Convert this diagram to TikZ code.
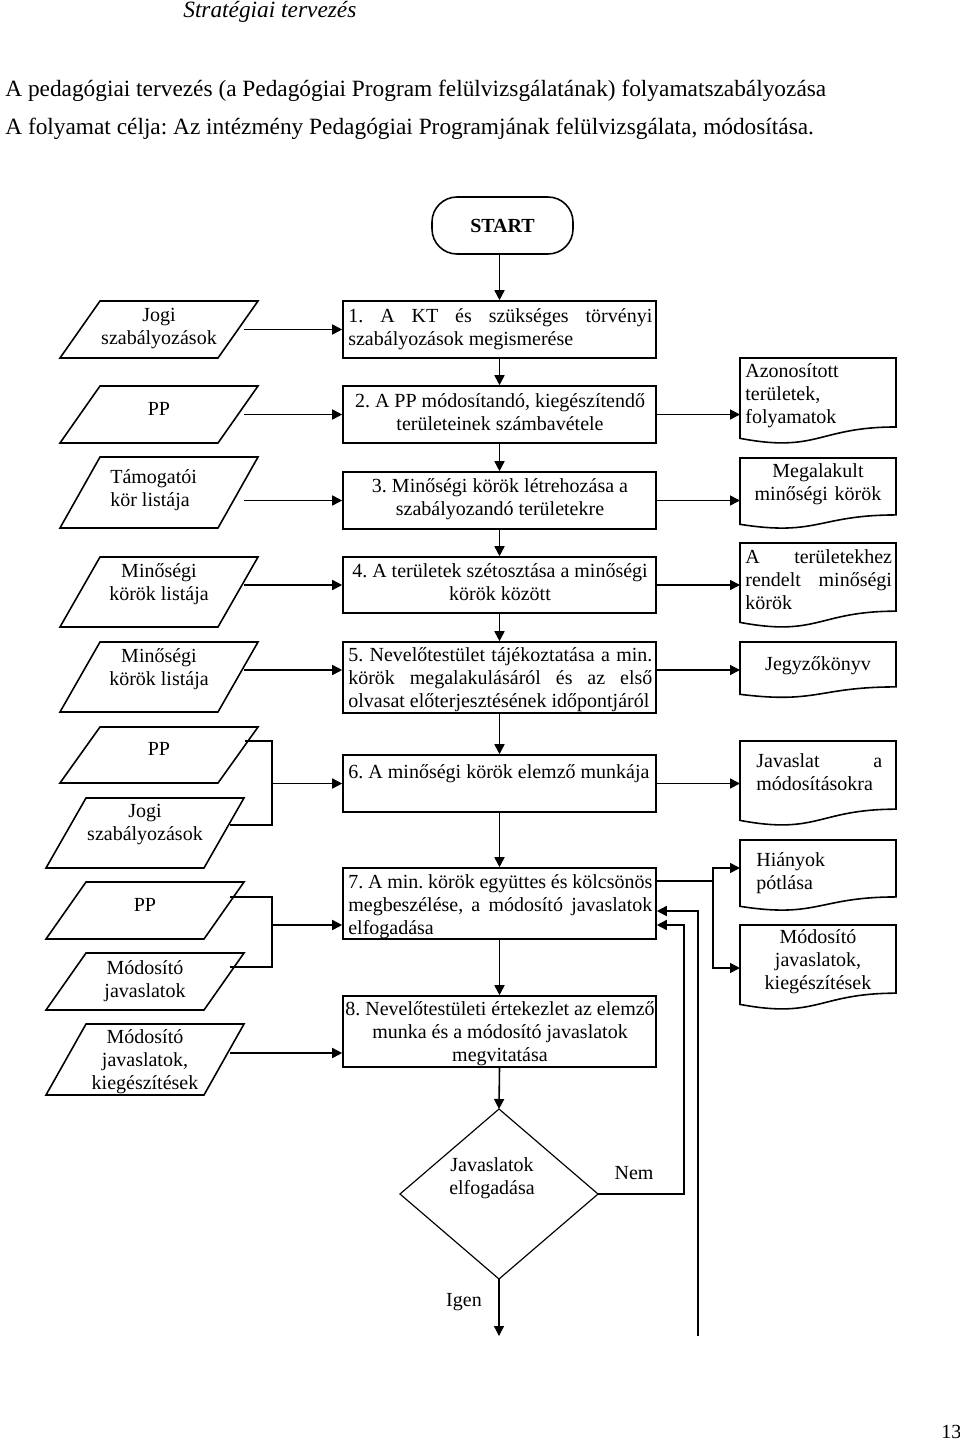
\documentclass[tikz,border=0pt]{standalone}
\usepackage{fontspec}
\setmainfont{Liberation Serif}
\usetikzlibrary{arrows.meta,calc,fit}
\frenchspacing

\newcommand\jl[2]{\makebox[#1][s]{#2}}
\newcommand\docnode[5]{%
  \node[ghost, fit={(#2,#3) (#4,#3+0.802*#5)}] (#1) {};
  \draw[line] (#1.north west) -- (#1.north east) -- (#1.south east)
    .. controls (#1.south) and ($(#1.south)+(0,0.305*#5)$) ..
    ($(#1.north west)+(0,0.934*#5)$) -- cycle;
}
\newcommand\paranode[5]{%
  \node[ghost, fit={(#2,#4) (#3,#5)}] (#1) {};
  \draw[line] ($(#1.north west)+(40,0)$) -- (#1.north east) --
    ($(#1.south east)+(-40,0)$) -- (#1.south west) -- cycle;
}

\begin{document}
\begin{tikzpicture}[x=0.6pt,y=-0.6pt,
  line/.style={line width=0.95pt},
  thinline/.style={line width=0.7pt},
  arr/.style={line width=0.95pt,-{Triangle[length=6pt,width=6pt]}},
  thinarr/.style={line width=0.7pt,-{Triangle[length=6pt,width=6pt]}},
  box/.style={draw,line width=0.95pt,inner sep=0pt},
  ghost/.style={inner sep=0pt,outer sep=0pt},
  txt/.style={inner sep=0pt,yshift=-2pt,font=\fontsize{12}{13.8}\selectfont\frenchspacing,execute at begin node=\strut},
  head/.style={inner sep=0pt,font=\fontsize{14}{16}\selectfont},
]
\useasboundingbox (0,0) rectangle (960,1440);

% header
\node[head,anchor=base west,font=\fontsize{14}{16}\selectfont\itshape] (h0) at (183,18) {Stratégiai tervezés};
\node[head,anchor=base west] (h1) at (5,97) {A pedagógiai tervezés (a Pedagógiai Program felülvizsgálatának) folyamatszabályozása};
\node[head,anchor=base west] (h2) at (5,135) {A folyamat célja: Az intézmény Pedagógiai Programjának felülvizsgálata, módosítása.};

% start
\node[box,rounded corners=15pt,fit={(432,197) (573,254)}] (start) {};
\node[inner sep=0pt,font=\fontsize{12}{13.8}\selectfont\bfseries] (startt) at (start.center) {START};

% process boxes
\node[box,fit={(343,301) (656,358)}] (b1) {};
\node[box,fit={(343,386) (656,443)}] (b2) {};
\node[box,fit={(343,472) (656,529)}] (b3) {};
\node[box,fit={(343,557) (656,613)}] (b4) {};
\node[box,fit={(343,642) (656,713)}] (b5) {};
\node[box,fit={(343,755) (656,812)}] (b6) {};
\node[box,fit={(343,868) (656,939)}] (b7) {};
\node[box,fit={(343,996) (656,1067)}] (b8) {};

\node[txt,anchor=north west,align=left] (t1) at (348,305) {\jl{182.4pt}{1. A KT és szükséges törvényi}\\szabályozások megismerése};
\node[txt,anchor=north,align=center] (t2) at (500,390) {2. A PP módosítandó, kiegészítendő\\területeinek számbavétele};
\node[txt,anchor=north,align=center] (t3) at (500,475) {3. Minőségi körök létrehozása a\\szabályozandó területekre};
\node[txt,anchor=north,align=center] (t4) at (500,560) {4. A területek szétosztása a minőségi\\körök között};
\node[txt,anchor=north west,align=left] (t5) at (348,644) {\jl{182.4pt}{5. Nevelőtestület tájékoztatása a min.}\\\jl{182.4pt}{körök megalakulásáról és az első}\\olvasat előterjesztésének időpontjáról};
\node[txt,anchor=north,align=center] (t6) at (499,759) {6. A minőségi körök elemző munkája};
\node[txt,anchor=north west,align=left] (t7) at (348,871) {\jl{182.4pt}{7. A min. körök együttes és kölcsönös}\\\jl{182.4pt}{megbeszélése, a módosító javaslatok}\\elfogadása};
\node[txt,anchor=north,align=center] (t8) at (500,998) {8. Nevelőtestületi értekezlet az elemző\\munka és a módosító javaslatok\\megvitatása};

% input parallelograms
\paranode{p1}{60}{258}{301}{358}
\paranode{p2}{60}{258}{386}{443}
\paranode{p3}{60}{258}{457}{528}
\paranode{p4}{60}{258}{557}{627}
\paranode{p5}{60}{258}{642}{712}
\paranode{p6}{60}{258}{727}{783}
\paranode{p7}{46}{244}{798}{868}
\paranode{p8}{46}{244}{882}{939}
\paranode{p9}{46}{244}{953}{1010}
\paranode{p10}{46}{244}{1024}{1095}

\node[txt,anchor=north,align=center] (q1) at (159,305) {Jogi\\szabályozások};
\node[txt,anchor=north,align=center] (q2) at (159,396) {PP};
\node[txt,anchor=north west,align=left] (q3) at (110,466) {Támogatói\\kör listája};
\node[txt,anchor=north,align=center] (q4) at (159,560) {Minőségi\\körök listája};
\node[txt,anchor=north,align=center] (q5) at (159,645) {Minőségi\\körök listája};
\node[txt,anchor=north,align=center] (q6) at (159,736) {PP};
\node[txt,anchor=north,align=center] (q7) at (145,801) {Jogi\\szabályozások};
\node[txt,anchor=north,align=center] (q8) at (145,892) {PP};
\node[txt,anchor=north,align=center] (q9) at (145,957) {Módosító\\javaslatok};
\node[txt,anchor=north,align=center] (q10) at (145,1026) {Módosító\\javaslatok,\\kiegészítések};

% output documents
\docnode{d1}{740}{358}{896}{86}
\docnode{d2}{740}{458}{896}{71}
\docnode{d3}{740}{543}{896}{85}
\docnode{d4}{740}{642}{896}{56}
\docnode{d5}{740}{741}{896}{85}
\docnode{d6}{740}{840}{896}{71}
\docnode{d7}{740}{925}{896}{85}

\node[txt,anchor=north west,align=left] (e1) at (745,360) {Azonosított\\területek,\\folyamatok};
\node[txt,anchor=north,align=center] (e2) at (818,460) {Megalakult\\\jl{76pt}{minőségi körök}};
\node[txt,anchor=north west,align=left] (e3) at (745,546) {\jl{88pt}{A területekhez}\\\jl{88pt}{rendelt minőségi}\\körök};
\node[txt,anchor=north,align=center] (e4) at (818,651) {Jegyzőkönyv};
\node[txt,anchor=north west,align=left] (e5) at (756,750) {\jl{75.6pt}{Javaslat a}\\módosításokra};
\node[txt,anchor=north west,align=left] (e6) at (756,849) {Hiányok\\pótlása};
\node[txt,anchor=north,align=center] (e7) at (818,926) {Módosító\\javaslatok,\\kiegészítések};

% decision
\node[ghost,fit={(400,1109) (598,1279)}] (dia) {};
\draw[thinline] (dia.north) -- (dia.east) -- (dia.south) -- (dia.west) -- cycle;
\node[txt,anchor=north,align=center] (dt) at (492,1154) {Javaslatok\\elfogadása};
\node[txt,anchor=center,execute at begin node={}] (nem) at (634,1172) {Nem};
\node[txt,anchor=center,execute at begin node={}] (igen) at (464,1299) {Igen};

% page number
\node[inner sep=0pt,anchor=base west,font=\fontsize{12}{13.8}\selectfont] (pg) at (941,1438) {13};

% main flow
\draw[arr] (b1.north |- start.south) -- (b1.north);
\draw[arr] (b1.south) -- (b2.north);
\draw[arr] (b2.south) -- (b3.north);
\draw[arr] (b3.south) -- (b4.north);
\draw[arr] (b4.south) -- (b5.north);
\draw[arr] (b5.south) -- (b6.north);
\draw[arr] (b6.south) -- (b7.north);
\draw[arr] (b7.south) -- (b8.north);
\draw[arr] (b8.south) -- (dia.north);

% inputs
\draw[arr] ($(p1.east |- b1.west)+(-14,0)$) -- (b1.west);
\draw[arr] ($(p2.east |- b2.west)+(-14,0)$) -- (b2.west);
\draw[arr] ($(p3.east |- b3.west)+(-14,0)$) -- (b3.west);
\draw[arr] ($(p4.east |- b4.west)+(-14,0)$) -- (b4.west);
\coordinate (b5l) at ($(b5.west)+(0,-7.5)$);
\draw[arr] ($(p5.east |- b5l)+(-14,0)$) -- (b5l);
\coordinate (j6) at ($(b6.west)+(-70,0)$);
\draw[line] ($(p6.north east)+(-13,14)$) -| (j6) |- ($(p7.east)+(-14,-8)$);
\draw[arr] (j6) -- (b6.west);
\coordinate (j7) at ($(b7.west)+(-70,21.5)$);
\draw[line] ($(p8.north east)+(-14,15)$) -| (j7) |- ($(p9.north east)+(-14,14)$);
\draw[arr] (j7) -- (j7 -| b7.west);
\coordinate (b8l) at ($(b8.west)+(0,21.5)$);
\draw[arr] ($(p10.east |- b8l)+(-14,0)$) -- (b8l);

% outputs
\draw[arr] (b2.east) -- (b2.east -| d1.west);
\draw[arr] (b3.east) -- (b3.east -| d2.west);
\draw[arr] (b4.east) -- (b4.east -| d3.west);
\coordinate (b5r) at ($(b5.east)+(0,-7.5)$);
\draw[arr] (b5r) -- (b5r -| d4.west);
\draw[arr] (b6.east) -- (b6.east -| d5.west);
\coordinate (k7) at ($(b7.north east)+(56,14)$);
\draw[line] ($(b7.north east)+(0,14)$) -- (k7);
\draw[arr] (k7) |- ($(d6.north west)+(0,28)$);
\draw[arr] (k7) |- ($(d7.north west)+(0,43)$);

% decision outcomes
\draw[arr] (dia.east) -- ++(86,0) |- ($(b7.east)+(0,21.5)$);
\coordinate (yesend) at (499,1336);
\draw[thinarr] (dia.south) -- (yesend);
\coordinate (loopend) at (698,1336);
\draw[arr] (loopend) |- ($(b7.east)+(0,7.5)$);
\end{tikzpicture}
\end{document}
